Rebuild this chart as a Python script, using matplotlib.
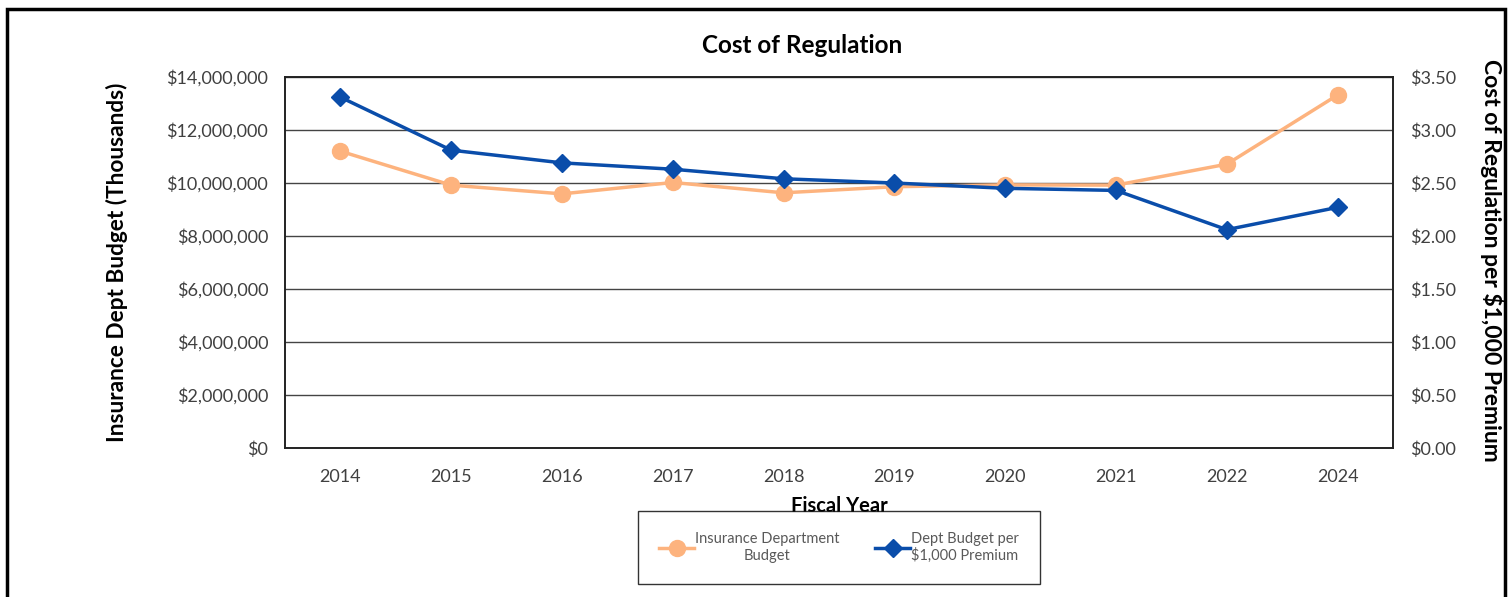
import matplotlib
matplotlib.use("Agg")
import matplotlib.pyplot as plt
from matplotlib.patches import Rectangle
from matplotlib.ticker import FuncFormatter

plt.rcParams['font.family'] = ['Lato', 'DejaVu Sans']

# Data
years = ['2014', '2015', '2016', '2017', '2018', '2019', '2020', '2021', '2022', '2024']
dept_budget = [11200000, 9920000, 9590000, 10020000, 9630000, 9860000, 9930000, 9920000, 10710000, 13320000]
per_1000 = [3.31, 2.81, 2.69, 2.63, 2.54, 2.50, 2.45, 2.43, 2.06, 2.27]

orange = '#FDB37E'
blue = '#0A4DAA'
txt = '#404040'

fig = plt.figure(figsize=(15.11, 5.97), dpi=100)
ax = fig.add_axes([0.1886, 0.2496, 0.7333, 0.6214])
ax2 = ax.twinx()

x = list(range(len(years)))
l1, = ax.plot(x, dept_budget, color=orange, lw=2.5, marker='o', markersize=11.5,
              label='Insurance Department\nBudget', zorder=3)
l2, = ax2.plot(x, per_1000, color=blue, lw=2.5, marker='D', markersize=9.5,
               label='Dept Budget per\n$1,000 Premium', zorder=3)

ax.set_xlim(-0.5, len(years) - 0.5)
ax.set_ylim(0, 14000000)
ax.set_yticks(range(0, 14000001, 2000000))
ax.yaxis.set_major_formatter(FuncFormatter(lambda v, p: '${:,.0f}'.format(v)))
ax2.set_ylim(0, 3.5)
ax2.set_yticks([i * 0.5 for i in range(8)])
ax2.yaxis.set_major_formatter(FuncFormatter(lambda v, p: '${:.2f}'.format(v)))
ax.set_xticks(x)
ax.set_xticklabels(years)

ax.grid(axis='y', color='#444444', lw=1)
ax.set_axisbelow(True)
for a in (ax, ax2):
    a.tick_params(length=0, labelsize=13, labelcolor=txt)
    for s in a.spines.values():
        s.set_color('#222222')
        s.set_linewidth(1.2)
ax.tick_params(axis='y', pad=12)
ax.tick_params(axis='x', pad=15)
ax2.tick_params(axis='y', pad=12)

ax.set_ylabel('Insurance Dept Budget (Thousands)', fontsize=16.3, fontweight='bold', va='center')
ax2.set_ylabel('Cost of Regulation per $1,000 Premium', fontsize=16.5, fontweight='bold',
               rotation=270, va='center')
ax.yaxis.set_label_coords(-0.152, 0.5)
ax2.yaxis.set_label_coords(1.0893, 0.507)

fig.text(0.531, 0.923, 'Cost of Regulation', ha='center', va='center', fontsize=17.5, fontweight='bold')
fig.text(0.5553, 0.153, 'Fiscal Year', ha='center', va='center', fontsize=14.5, fontweight='bold')

leg = fig.legend(handles=[l1, l2], loc='center', mode='expand',
                 bbox_to_anchor=(638 / 1511, 1 - 583 / 597, 402 / 1511, 71 / 597), ncol=2,
                 frameon=True, fancybox=False, fontsize=10.5, labelcolor='#595959',
                 handlelength=2.4, columnspacing=0.5, borderpad=1.45, borderaxespad=0,
                 handletextpad=0.05)
leg.get_frame().set_edgecolor('black')
leg.get_frame().set_linewidth(1)
leg.set_zorder(5)
for t in leg.get_texts():
    t.set_multialignment('center')

# outer frame around the chart
fig.patches.append(Rectangle((0.0046, -0.1), 0.9914, 1.0855, transform=fig.transFigure,
                             fill=False, edgecolor='black', lw=2.5))

fig.savefig('out.png', dpi=100)
